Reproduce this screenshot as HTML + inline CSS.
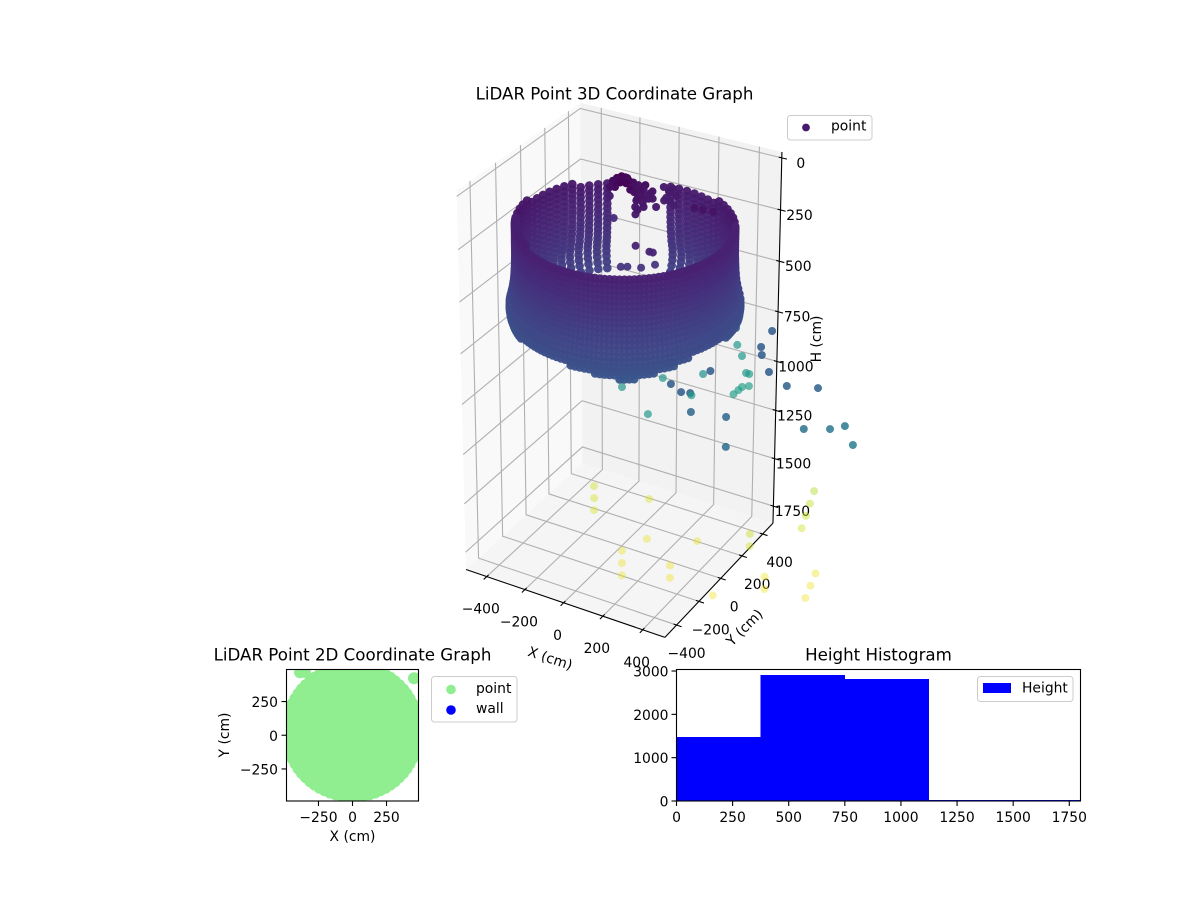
<!DOCTYPE html>
<html lang="en">
<head>
<meta charset="utf-8">
<title>LiDAR Point Graphs</title>
<style>
html,body{margin:0;padding:0;background:#fff;}
svg{display:block;}
text{font-family:"DejaVu Sans","Liberation Sans",sans-serif;fill:#000;font-size:13.89px;}
.title{font-size:16.67px;}
</style>
</head>
<body>
<svg id="fig" xmlns="http://www.w3.org/2000/svg" width="1200" height="900" viewBox="0 0 1200 900">
  <defs>
    <clipPath id="clip2d"><rect x="286.5" y="669.5" width="132" height="131.5"/></clipPath>
    <clipPath id="cliphist"><rect x="676.5" y="669.5" width="404" height="131.5"/></clipPath>
  </defs>
  <g id="g3d"></g>
  <text class="title" x="614.5" y="94" text-anchor="middle" dominant-baseline="central">LiDAR Point 3D Coordinate Graph</text>
  <text x="550" y="659" text-anchor="middle" dominant-baseline="central" transform="rotate(18.4 550 659)">X (cm)</text>
  <text x="745" y="628" text-anchor="middle" dominant-baseline="central" transform="rotate(-45 745 628)">Y (cm)</text>
  <text x="817" y="339" text-anchor="middle" dominant-baseline="central" transform="rotate(-90 817 339)">H (cm)</text>
  <g>
    <rect x="787.5" y="115.5" width="84.5" height="24.5" rx="3" fill="#fff" fill-opacity="0.8" stroke="#ccc" stroke-width="1"/>
    <circle cx="806" cy="127.5" r="3.9" fill="#481a6c"/>
    <text x="831" y="126.5" dominant-baseline="central">point</text>
  </g>

  <g id="g2d" clip-path="url(#clip2d)"></g>
  <g id="g2dAxes"></g>
  <rect x="286.5" y="669.5" width="132" height="131.5" fill="none" stroke="#000" stroke-width="1.1"/>
  <text class="title" x="352.5" y="655" text-anchor="middle" dominant-baseline="central">LiDAR Point 2D Coordinate Graph</text>
  <text x="352.5" y="837" text-anchor="middle" dominant-baseline="central">X (cm)</text>
  <text x="225" y="735" text-anchor="middle" dominant-baseline="central" transform="rotate(-90 225 735)">Y (cm)</text>
  <g>
    <rect x="431.5" y="676.5" width="85.5" height="45.5" rx="3" fill="#fff" fill-opacity="0.8" stroke="#ccc" stroke-width="1"/>
    <circle cx="451" cy="689.5" r="4.8" fill="#90ee90"/>
    <text x="476" y="689" dominant-baseline="central">point</text>
    <circle cx="451" cy="710" r="4.8" fill="#0000ff"/>
    <text x="476" y="709" dominant-baseline="central">wall</text>
  </g>

  <g id="gHist" clip-path="url(#cliphist)" shape-rendering="crispEdges"></g>
  <g id="gHistAxes"></g>
  <rect x="676.5" y="669.5" width="404" height="131.5" fill="none" stroke="#000" stroke-width="1.1"/>
  <text class="title" x="878.5" y="655" text-anchor="middle" dominant-baseline="central">Height Histogram</text>
  <g>
    <rect x="977.5" y="676.5" width="95.5" height="25" rx="3" fill="#fff" fill-opacity="0.8" stroke="#ccc" stroke-width="1"/>
    <rect x="983" y="683" width="28" height="10" fill="#0000ff"/>
    <text x="1022" y="688.5" dominant-baseline="central">Height</text>
  </g>
</svg>
<script>
const NS = 'http://www.w3.org/2000/svg';

/* ---------- 3D chart data ---------- */
const xTicks3d = [-400, -200, 0, 200, 400];
const yTicks3d = [-400, -200, 0, 200, 400];
const hTicks3d = [0, 250, 500, 750, 1000, 1250, 1500, 1750];
const xLim3d = [-510, 510];
const yLim3d = [-502, 502];
const hLim3d = [-28, 1840];

const wallCenterY = 30;
const wallAngles = [0,5,10,15,20,25,30,35,40,45,50,55,60,65,70,75,80,85,90,95,100,105,110,115,120,125,130,135,140,145,150,155,160,165,170,175,180,185,190,195,200,205,210,215,220,225,230,235,240,245,250,255,260,265,270,275,280,285,290,295,300,305,310,315,320,325,330,335,340,345,350,355];
const wallTop = [250,250,250,250,250,250,250,250,250,250,250,250,250,255,260,260,265,265,265,265,9999,9999,9999,9999,9999,9999,265,260,255,255,250,250,250,250,250,250,230,225,225,225,225,225,225,225,225,225,225,225,250,250,250,250,250,250,250,250,250,250,250,250,250,250,250,250,250,250,250,250,250,250,250,250];
const wallBottom = [655,650,650,655,660,660,650,650,700,700,700,700,700,700,700,700,700,700,700,700,700,700,700,700,700,700,700,700,700,700,700,700,700,700,700,700,700,720,730,750,760,765,770,745,725,705,690,675,665,660,660,660,660,665,670,680,690,700,710,720,730,725,715,700,690,675,660,645,635,630,625,640];
const frontAngles = [207.5,212.5,217.5,222.5,227.5,232.5,237.5,242.5,247.5,252.5,257.5,262.5,267.5,272.5,277.5,282.5,287.5,292.5,297.5,302.5,307.5,312.5,317.5,322.5,327.5,332.5,337.5,342.5,347.5,352.5,357.5,2.5,7.5,12.5,17.5,22.5,27.5];
const frontTop = [225,225,225,225,225,225,225,250,250,250,250,250,250,250,250,250,250,250,250,250,250,250,250,250,250,250,250,250,250,250,250,250,250,250,250,250,250];
const frontBottom = [765,755,735,715,697,682,670,662,660,660,660,660,667,675,685,695,705,715,725,728,720,708,695,682,667,652,640,632,627,632,648,652,650,652,657,660,655];
const wallLevels = [200,225,250,275,300,325,350,375,400,425,450,475,500,525,550,575,600,625,650,675,700,725,750,775,800];
const wallRadii = [475,475,475,475,475,475,475,475,476,477,478,480,482,486,490,496,502,503,500,492,478,468,460,455,450];

const strayX = [-329,-329,-329,-52,102,307,50,50,50,294,294,487,487,634,634,500,718,699,680,661,884,861,838,
  209,365,287,389,352,425,522,438,454,292,276,646,773,501,479,477,475,138,194,267,306,319,20,232,385,537,872,970,1015,1111,650,
  -117,-106,-115,-76,-31,1,42,84,62,20,93,124,170,128,60,104,105,148,165,-54,
  -97,-104,-107,-88,-56,-13,23,67,115,79,85,99,145,194,170,
  -78,-81,-54,-8,34,27,119,189,227,
  35,242,318,334,272,295,348,385,316,355,402];
const strayY = [307,307,307,340,53,150,-83,-83,-83,-76,-76,318,318,186,186,-54,493,493,493,493,189,189,189,
  677,734,544,581,467,519,403,345,344,282,243,335,387,252,230,199,158,125,98,60,72,59,-31,-171,-64,-25,54,109,162,43,-237,
  124,181,156,178,153,142,116,120,27,74,-44,-26,0,-103,57,51,181,186,96,-8,
  66,102,150,180,159,114,85,10,-62,68,101,9,155,133,69,
  77,125,131,87,101,157,60,80,52,
  -126,-297,-314,-314,-470,-456,-435,-385,73,75,82];
const strayH = [1800,1865,1930,1800,1800,1800,1800,1865,1930,1800,1865,1800,1865,1900,1965,1900,1600,1671,1742,1813,1800,1872,1944,
  1000,1000,1000,1000,1000,1000,1000,1000,1000,1000,1000,1000,1000,1000,1000,1000,1000,1000,1000,1000,1000,1000,1000,1000,1000,1000,1000,1000,1000,1000,1000,
  100,100,100,100,100,100,100,100,100,100,100,100,100,100,100,100,100,100,100,100,
  100,100,100,100,100,100,100,100,100,100,100,100,100,100,100,
  100,100,100,100,100,100,100,100,100,
  130,130,130,130,140,140,140,140,100,100,100];
const strayShade = [.93,.94,.95,.95,.97,.97,.97,.97,.98,.97,.98,.92,.94,.98,.98,.98,.88,.9,.91,.93,.97,.97,.98,
  .33,.3,.52,.3,.52,.3,.3,.52,.54,.3,.5,.32,.32,.55,.55,.55,.55,.52,.3,.3,.3,.52,.52,.52,.33,.33,.38,.4,.4,.42,.36,
  .03,0,.02,.02,.03,.04,.05,.06,.05,.04,.06,.06,.07,.07,.05,.06,.07,.07,.08,.08,
  .04,.03,.02,.02,.03,.04,.05,.05,.06,.06,.06,.06,.07,.07,.08,
  .02,.01,.01,.02,.04,.03,.06,.08,.08,
  .12,.1,.1,.1,.15,.15,.15,.15,.05,.05,.05];
const shadeScaleMax = 2700;
const farWallScaleMax = 3700;

/* ---------- 2D chart data ---------- */
const xTicks2d = [-250, 0, 250];
const yTicks2d = [-250, 0, 250];
const xLim2d = [-485, 485];
const yLim2d = [-488, 488];
const planRadii = [0, 70, 140, 210, 280, 350, 420, 484];
const planOffsetY = 30;
const planExtraX = [452, -386, -350];
const planExtraY = [423, 468, 470];

/* ---------- Histogram data ---------- */
const histEdges = [0, 375, 750, 1125, 1500, 1875];
const histCounts = [1477, 2908, 2815, 25, 20];
const histXTicks = [0, 250, 500, 750, 1000, 1250, 1500, 1750];
const histYTicks = [0, 1000, 2000, 3000];
const histXLim = [0, 1800];
const histYLim = [0, 3035];

/* ---------- Helpers ---------- */
const viridisStops = ['#440154','#482475','#414487','#355f8d','#2a788e','#21918c','#22a884','#44bf70','#7ad151','#bddf26','#fde725'];
function hexRgb(h){return [parseInt(h.slice(1,3),16),parseInt(h.slice(3,5),16),parseInt(h.slice(5,7),16)];}
function viridis(c){
  const t=Math.max(0,Math.min(1,c))*10, i=Math.min(9,Math.floor(t)), f=t-i;
  const a=hexRgb(viridisStops[i]), b=hexRgb(viridisStops[i+1]);
  return 'rgb('+a.map((v,k)=>Math.round(v+(b[k]-v)*f)).join(',')+')';
}
function project(x,y,h){
  const rx=(x-(xLim3d[0]+xLim3d[1])/2)/((xLim3d[1]-xLim3d[0])/2)*0.425;
  const ry=(y-(yLim3d[0]+yLim3d[1])/2)/((yLim3d[1]-yLim3d[0])/2)*0.425;
  const rz=((hLim3d[0]+hLim3d[1])/2-h)/((hLim3d[1]-hLim3d[0])/2)*0.664;
  const den=10-(0.4495*rx-0.7785*ry+0.438*rz);
  const xp=(0.866*rx+0.5*ry)/den;
  const yp=(-0.219*rx+0.379*ry+0.899*rz)/den;
  return {px:621.6+2720*xp, py:363.9-3139*yp, den:den};
}
function fmt(v){return v<0?'\u2212'+Math.abs(v):String(v);}
function svgEl(tag,parent){const e=document.createElementNS(NS,tag);parent.appendChild(e);return e;}
function setLine(e,a,b,stroke,w){
  e.setAttribute('x1',a.px);e.setAttribute('y1',a.py);e.setAttribute('x2',b.px);e.setAttribute('y2',b.py);
  e.setAttribute('stroke',stroke);e.setAttribute('stroke-width',w);
}
function setText(e,x,y,s,anchor){
  e.setAttribute('x',x);e.setAttribute('y',y);e.setAttribute('text-anchor',anchor);
  e.setAttribute('dominant-baseline','central');e.textContent=s;
}
function polyPts(list){return list.map(p=>p.px+','+p.py).join(' ');}

/* ---------- 3D render ---------- */
const g3d=document.getElementById('g3d');
const [x0,x1]=xLim3d,[y0,y1]=yLim3d,[h0,h1]=hLim3d;

const paneLeft=svgEl('polygon',g3d);


paneLeft.setAttribute('points',polyPts([project(x0,y0,h1),project(x0,y1,h1),project(x0,y1,h0),project(x0,y0,h0)]));
paneLeft.setAttribute('fill','#f9f9f9');

const paneBack=svgEl('polygon',g3d);


paneBack.setAttribute('points',polyPts([project(x0,y1,h1),project(x1,y1,h1),project(x1,y1,h0),project(x0,y1,h0)]));
paneBack.setAttribute('fill','#f2f2f2');

const paneFloor=svgEl('polygon',g3d);


paneFloor.setAttribute('points',polyPts([project(x0,y0,h1),project(x1,y0,h1),project(x1,y1,h1),project(x0,y1,h1)]));
paneFloor.setAttribute('fill','#f5f5f5');

xTicks3d.forEach(v=>{
  const pl=svgEl('polyline',g3d);
  
  
  pl.setAttribute('points',polyPts([project(v,y0,h1),project(v,y1,h1),project(v,y1,h0)]));
  pl.setAttribute('fill','none');pl.setAttribute('stroke','#b0b0b0');pl.setAttribute('stroke-width','1.1');
});
yTicks3d.forEach(v=>{
  const pl=svgEl('polyline',g3d);
  
  
  pl.setAttribute('points',polyPts([project(x1,v,h1),project(x0,v,h1),project(x0,v,h0)]));
  pl.setAttribute('fill','none');pl.setAttribute('stroke','#b0b0b0');pl.setAttribute('stroke-width','1.1');
});
hTicks3d.forEach(v=>{
  const pl=svgEl('polyline',g3d);
  
  
  pl.setAttribute('points',polyPts([project(x0,y0,v),project(x0,y1,v),project(x1,y1,v)]));
  pl.setAttribute('fill','none');pl.setAttribute('stroke','#b0b0b0');pl.setAttribute('stroke-width','1.1');
});

const axisX=svgEl('line',g3d);


setLine(axisX,project(x0,y0,h1),project(x1,y0,h1),'#000','1.1');
const axisY=svgEl('line',g3d);


setLine(axisY,project(x1,y0,h1),project(x1,y1,h1),'#000','1.1');
const axisH=svgEl('line',g3d);


setLine(axisH,project(x1,y1,h1),project(x1,y1,h0),'#000','1.1');

xTicks3d.forEach(v=>{
  const t=svgEl('line',g3d);
  
  
  setLine(t,project(v,y0+15,h1),project(v,y0-25,h1),'#000','1.1');
  const p=project(v,y0,h1);
  const l=svgEl('text',g3d);
  
  
  setText(l,p.px-6,p.py+33,fmt(v),'middle');
});
yTicks3d.forEach(v=>{
  const t=svgEl('line',g3d);
  
  
  setLine(t,project(x1-15,v,h1),project(x1+25,v,h1),'#000','1.1');
  const p=project(x1,v,h1);
  const l=svgEl('text',g3d);
  
  
  setText(l,p.px+10+(v+400)*7/800,p.py+29,fmt(v),'middle');
});
hTicks3d.forEach(v=>{
  const t=svgEl('line',g3d);
  
  
  setLine(t,project(x1-15,y1,v),project(x1+25,y1,v),'#000','1.1');
  const p=project(x1,y1,v);
  const l=svgEl('text',g3d);
  
  
  setText(l,p.px+19,p.py+6,fmt(v),'middle');
});

/* Collect all scatter marks, then paint far to near. */
const marks=[];
function addWallColumn(deg,top,bottom){
  const a=deg*Math.PI/180;
  const far=deg>30&&deg<205;
  wallLevels.forEach((h,j)=>{
    if(h<top||h>bottom)return;
    const r=wallRadii[j];
    const p=project(r*Math.cos(a),r*Math.sin(a)+wallCenterY,h);
    marks.push({p:p,c:h/(far?farWallScaleMax:shadeScaleMax),r:4.3,o:0.96,kind:'wall-point'});
  });
}
wallAngles.forEach((deg,i)=>addWallColumn(deg,wallTop[i],wallBottom[i]));
frontAngles.forEach((deg,i)=>addWallColumn(deg,frontTop[i],frontBottom[i]));
strayX.forEach((x,i)=>{
  const s=strayShade[i];
  marks.push({p:project(x,strayY[i],strayH[i]),c:s,r:4,o:s>0.45?1-0.6*s:1-0.38*s,kind:'stray-point'});
});
marks.sort((a,b)=>b.p.den-a.p.den);
marks.forEach(m=>{
  const c=svgEl('circle',g3d);
  
  
  c.setAttribute('cx',m.p.px.toFixed(1));
  c.setAttribute('cy',m.p.py.toFixed(1));
  c.setAttribute('r',m.r);
  c.setAttribute('fill',viridis(m.c));
  c.setAttribute('fill-opacity',m.o.toFixed(2));
});

/* ---------- 2D render ---------- */
const g2d=document.getElementById('g2d');
const g2dAxes=document.getElementById('g2dAxes');
function sx2d(v){return 286.5+(v-xLim2d[0])/(xLim2d[1]-xLim2d[0])*132;}
function sy2d(v){return 801-(v-yLim2d[0])/(yLim2d[1]-yLim2d[0])*131.5;}
planRadii.forEach(r=>{
  wallAngles.forEach(deg=>{
    const a=deg*Math.PI/180;
    const c=svgEl('circle',g2d);
    
    
    c.setAttribute('cx',sx2d(r*Math.cos(a)).toFixed(1));
    c.setAttribute('cy',sy2d(r*Math.sin(a)+planOffsetY).toFixed(1));
    c.setAttribute('r','6');
    c.setAttribute('fill','#90ee90');
  });
});
planExtraX.forEach((x,i)=>{
  const c=svgEl('circle',g2d);
  
  
  c.setAttribute('cx',sx2d(x).toFixed(1));
  c.setAttribute('cy',sy2d(planExtraY[i]).toFixed(1));
  c.setAttribute('r','6');
  c.setAttribute('fill','#90ee90');
});
xTicks2d.forEach(v=>{
  const t=svgEl('line',g2dAxes);
  
  
  setLine(t,{px:sx2d(v),py:801},{px:sx2d(v),py:806},'#000','1.1');
  const l=svgEl('text',g2dAxes);
  
  
  setText(l,sx2d(v),818,fmt(v),'middle');
});
yTicks2d.forEach(v=>{
  const t=svgEl('line',g2dAxes);
  
  
  setLine(t,{px:286.5,py:sy2d(v)},{px:281.5,py:sy2d(v)},'#000','1.1');
  const l=svgEl('text',g2dAxes);
  
  
  setText(l,278,sy2d(v)+1.5,fmt(v),'end');
});

/* ---------- Histogram render ---------- */
const gHist=document.getElementById('gHist');
const gHistAxes=document.getElementById('gHistAxes');
function sxH(v){return 676.5+(v-histXLim[0])/(histXLim[1]-histXLim[0])*404;}
function syH(v){return 801-(v-histYLim[0])/(histYLim[1]-histYLim[0])*131.5;}
histCounts.forEach((n,i)=>{
  const b=svgEl('rect',gHist);
  
  
  b.setAttribute('x',sxH(histEdges[i]));
  b.setAttribute('y',syH(n));
  b.setAttribute('width',sxH(histEdges[i+1])-sxH(histEdges[i]));
  b.setAttribute('height',syH(0)-syH(n));
  b.setAttribute('fill','#0000ff');
});
histXTicks.forEach(v=>{
  const t=svgEl('line',gHistAxes);
  
  
  setLine(t,{px:sxH(v),py:801},{px:sxH(v),py:806},'#000','1.1');
  const l=svgEl('text',gHistAxes);
  
  
  setText(l,sxH(v),818,fmt(v),'middle');
});
histYTicks.forEach(v=>{
  const t=svgEl('line',gHistAxes);
  
  
  setLine(t,{px:676.5,py:syH(v)},{px:671.5,py:syH(v)},'#000','1.1');
  const l=svgEl('text',gHistAxes);
  
  
  setText(l,668.5,syH(v)+1.5,fmt(v),'end');
});
</script>
</body>
</html>
